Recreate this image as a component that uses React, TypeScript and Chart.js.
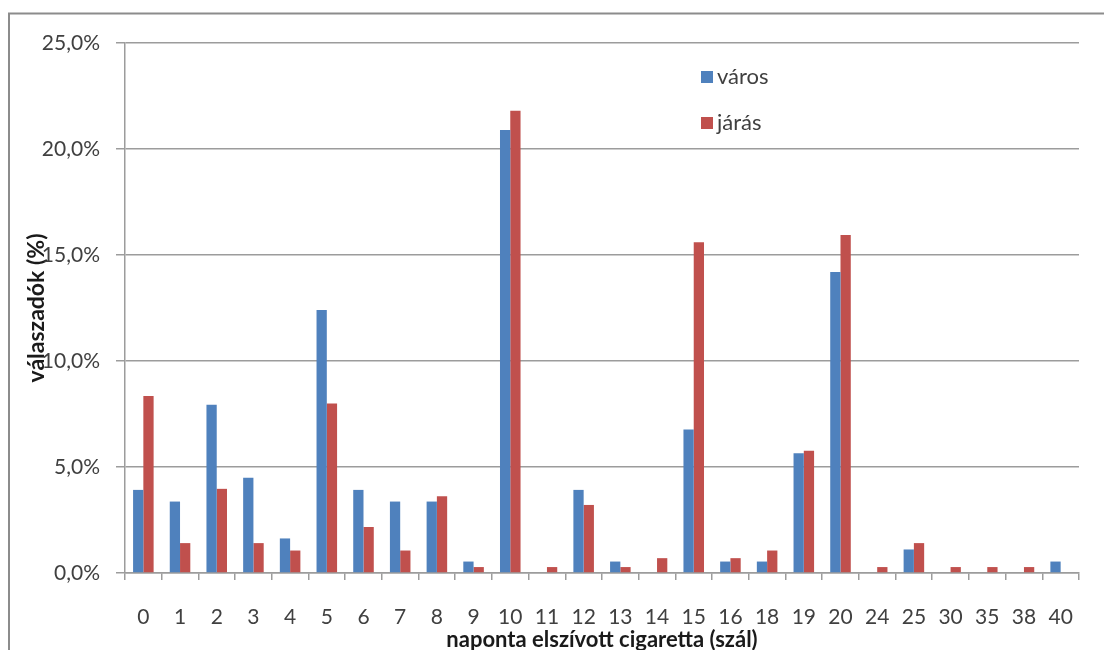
import React, { useEffect, useRef } from "react";
import { Chart, registerables } from "chart.js";

Chart.register(...registerables);

const categories = ["0", "1", "2", "3", "4", "5", "6", "7", "8", "9", "10", "11", "12", "13", "14", "15", "16", "18", "19", "20", "24", "25", "30", "35", "38", "40"];
const varos = [3.92, 3.37, 7.94, 4.49, 1.63, 12.4, 3.92, 3.37, 3.37, 0.54, 20.9, 0, 3.92, 0.54, 0, 6.77, 0.54, 0.54, 5.65, 14.2, 0, 1.11, 0, 0, 0, 0.54];
const jaras = [8.35, 1.41, 3.97, 1.41, 1.06, 8.0, 2.17, 1.06, 3.62, 0.28, 21.8, 0.28, 3.21, 0.28, 0.7, 15.6, 0.7, 1.06, 5.77, 15.94, 0.28, 1.41, 0.28, 0.28, 0.28, 0];
const yTickValues = [0, 5, 10, 15, 20, 25];
const yTickLabels = ["0,0%", "5,0%", "10,0%", "15,0%", "20,0%", "25,0%"];
const seriesNames = ["város", "járás"];
const seriesColors = ["#4F81BD", "#C0504D"];
const xTitle = "naponta elszívott cigaretta (szál)";
const yTitle = "válaszadók (%)";

const framePlugin = {
  id: "frame",
  beforeDraw(chart: any) {
    const ctx = chart.ctx;
    ctx.save();
    ctx.strokeStyle = "#8c8c8c";
    ctx.lineWidth = 2;
    ctx.strokeRect(9, 13.5, 2000, 2000);
    ctx.restore();
  },
};

const legendPlugin = {
  id: "customLegend",
  afterDraw(chart: any) {
    const ctx = chart.ctx;
    ctx.save();
    ctx.font = "22px Lato";
    ctx.textBaseline = "middle";
    ctx.textAlign = "left";
    chart.data.datasets.forEach((ds: any, i: number) => {
      const y = 71 + i * 46;
      ctx.fillStyle = ds.backgroundColor;
      ctx.fillRect(701, y, 12, 12);
      ctx.fillStyle = "#404040";
      ctx.fillText(ds.label, 717, y + 6);
    });
    ctx.restore();
  },
};

export default function App() {
  const ref = useRef<HTMLCanvasElement>(null);
  useEffect(() => {
    if (!ref.current) return;
    const grid = "#9c9c9c";
    const chart = new Chart(ref.current, {
      type: "bar",
      data: {
        labels: categories,
        datasets: [
          { label: seriesNames[0], data: varos, backgroundColor: seriesColors[0], categoryPercentage: 0.56, barPercentage: 1 },
          { label: seriesNames[1], data: jaras, backgroundColor: seriesColors[1], categoryPercentage: 0.56, barPercentage: 1 },
        ],
      },
      options: {
        responsive: false,
        animation: false,
        layout: { padding: { left: 0, right: 25, top: 43, bottom: 0 } },
        plugins: { legend: { display: false }, tooltip: { enabled: false } },
        scales: {
          x: {
            offset: true,
            grid: { offset: true, drawOnChartArea: false, drawTicks: true, tickLength: 7, color: grid, lineWidth: 1.5 },
            border: { display: true, color: grid, width: 1.5 },
            ticks: { padding: 25, color: "#404040", font: { family: "Lato", size: 21 }, maxRotation: 0, autoSkip: false },
            title: { display: true, text: xTitle, color: "#1a1a1a", font: { family: "Lato", size: 22, weight: "bold" }, padding: { top: 0, bottom: -3 } },
            afterFit: (s: any) => { s.height = 77; },
          },
          y: {
            min: 0,
            max: 25,
            afterBuildTicks: (s: any) => { s.ticks = yTickValues.map((v) => ({ value: v })); },
            grid: { color: grid, lineWidth: 1.5, tickLength: 9, drawTicks: true },
            border: { display: true, color: grid, width: 1.5 },
            ticks: {
              padding: 16,
              color: "#404040",
              font: { family: "Lato", size: 21 },
              callback: (v: any) => yTickLabels[yTickValues.indexOf(Number(v))] ?? "",
            },
            title: { display: true, text: yTitle, color: "#1a1a1a", font: { family: "Lato", size: 23, weight: "bold" }, padding: { top: 23, bottom: 0 } },
            afterFit: (s: any) => { s.width = 125; },
          },
        },
      },
      plugins: [framePlugin, legendPlugin],
    });
    return () => chart.destroy();
  }, []);
  return (
    <div style={{ position: "fixed", left: 0, top: 0, width: 1104, height: 650, background: "#fff" }}>
      <canvas ref={ref} width={1104} height={650} style={{ display: "block" }} />
    </div>
  );
}
